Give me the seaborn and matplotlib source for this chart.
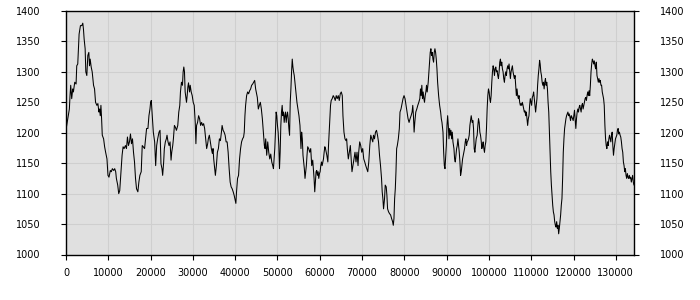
import matplotlib
matplotlib.use("Agg")
import matplotlib.pyplot as plt
import seaborn as sns
import pandas as pd

# ---- data ----
x_values = [
    0, 794, 953, 1112, 1350, 1588, 1747, 2064, 2382, 2541, 2779, 3097, 3414, 3732, 3970, 4129,
    4288, 4526, 4685, 4923, 5161, 5399, 5558, 5717, 5955, 6193, 6511, 6749, 6987, 7305, 7543,
    7781, 7940, 8099, 8258, 8416, 8575, 8893, 9131, 9369, 9687, 9925, 10163, 10481, 10719,
    10957, 11275, 11513, 11751, 11910, 12228, 12466, 12704, 12863, 13260, 13498, 13736, 14054,
    14292, 14530, 14768, 15007, 15245, 15483, 15721, 15959, 16198, 16436, 16674, 16992, 17230,
    17468, 17786, 18024, 18262, 18580, 18818, 19056, 19374, 19612, 19850, 20009, 20168, 20406,
    20644, 20962, 21200, 21438, 21676, 21994, 22232,
    22457, 22695, 22854, 23092, 23251, 23489, 23727, 23886, 24124, 24363, 24601, 24839, 24998,
    25236, 25395, 25633, 25871, 26109, 26427, 26665, 26903, 27062, 27300, 27539, 27697, 27856,
    28015, 28174, 28333, 28491, 28650, 28809, 28968, 29206, 29365, 29603, 29841, 30079, 30318,
    30556, 30715, 30873, 31112, 31350, 31588, 31826, 32064, 32303, 32541, 32779, 33017, 33255,
    33494, 33652, 33891, 34129, 34367, 34605, 34764, 34923, 35161, 35320, 35558, 35796, 36034,
    36273, 36511, 36749, 36908, 37146, 37384, 37622, 37861, 38099, 38337, 38575, 38813, 39052,
    39290, 39528, 39766, 40004, 40163, 40322, 40560, 40798, 41037, 41275, 41513, 41751, 41989,
    42148, 42307, 42466, 42704, 42942, 43180, 43418, 43657, 43895, 44133, 44371, 44610,
    44839, 45077, 45236, 45474, 45712, 45951, 46189, 46427, 46665, 46903, 47062, 47221, 47459,
    47698, 47936, 48174, 48412, 48650, 48888, 49047, 49206, 49365, 49524, 49682, 49841, 50000,
    50159, 50318, 50476, 50635, 50794, 50953, 51112, 51270, 51429, 51588, 51747, 51906, 52064,
    52223, 52382, 52541, 52700, 52858, 53017, 53176, 53335, 53494, 53652, 53811, 53970, 54129,
    54367, 54605, 54843, 55081, 55320, 55558, 55717, 55876, 56034, 56193, 56352, 56511, 56670,
    56828, 56987, 57146, 57384, 57622, 57861, 58099, 58337, 58496, 58655, 58814, 58972, 59131,
    59290, 59449, 59608, 59766, 59925, 60084, 60243, 60402, 60560, 60719, 60878, 61037, 61196,
    61354, 61513, 61672, 61910, 62069, 62228, 62387, 62545, 62704, 62942, 63181, 63419, 63657,
    63895, 64133, 64372, 64610, 64848, 65086, 65325, 65483, 65721, 65959, 66198, 66356, 66515,
    66753, 66992, 67230,
    67459, 67618, 67856, 68094, 68333, 68571, 68809, 69047, 69206, 69444, 69682, 69921, 70159,
    70397, 70635, 70873, 71112, 71350, 71588, 71826, 72064, 72303, 72541, 72700, 72938, 73176,
    73414, 73652, 73891, 74129, 74367, 74605, 74764, 74923, 75082, 75320, 75479, 75717, 75876,
    76034, 76273, 76511, 76749, 76987, 77225, 77384, 77543, 77702, 77861, 78019, 78178, 78337,
    78576, 78814, 78973, 79211, 79449, 79687, 79925, 80163, 80402, 80640, 80878, 81116, 81354,
    81592, 81831, 81990, 82148, 82307, 82466, 82704, 82942, 83180, 83419, 83657, 83816, 83974,
    84133, 84292, 84451, 84610, 84769, 84927, 85086, 85245, 85404, 85642, 85801, 85960, 86119,
    86277, 86436, 86595, 86754, 86913, 87071, 87230, 87389, 87548, 87707, 87865, 88103, 88341,
    88580, 88739, 88897, 89136, 89294, 89453, 89612,
    89922, 90079, 90236, 90393, 90550, 90707, 90864, 91021, 91178, 91335, 91492, 91727, 91884,
    92041, 92198, 92355, 92512, 92669, 92826, 92983, 93140, 93297, 93454, 93611, 93768, 93925,
    94082, 94239, 94396, 94553, 94710, 94867, 95024, 95181, 95338, 95495, 95652, 95809, 96045,
    96202, 96359, 96516, 96673, 96830, 96987, 97222, 97379, 97536, 97693, 97850, 98007, 98164,
    98321, 98478, 98635, 98792, 98949, 99106, 99263, 99420, 99577, 99734, 99891, 100048, 100205,
    100362, 100519, 100676, 100833, 100990, 101147, 101304, 101461, 101618, 101775, 101932,
    102089, 102246, 102403, 102560, 102717, 102874, 103031, 103188, 103345, 103502, 103659,
    103816, 103973, 104130, 104287, 104444, 104601, 104758, 104915, 105072, 105229, 105386,
    105543, 105700, 105857, 106014, 106171, 106328, 106485, 106642, 106799, 106956, 107113,
    107270, 107427, 107584, 107741, 107898, 108055, 108212, 108369, 108526, 108683, 108840,
    108997, 109154, 109311, 109468, 109625, 109782, 109939, 110096, 110253, 110410, 110567,
    110724, 110881, 111038, 111195, 111352, 111509, 111666, 111823, 111980,
    112112, 112268, 112424, 112581, 112737, 112893, 113049, 113205, 113362, 113518, 113674,
    113830, 113986, 114143, 114299, 114455, 114611, 114767, 114924, 115080, 115236, 115392,
    115548, 115705, 115861, 116017, 116173, 116329, 116486, 116642, 116798, 116954, 117110,
    117267, 117423, 117579, 117735, 117891, 118048, 118204, 118360, 118516, 118672, 118829,
    118985, 119141, 119297, 119453, 119610, 119766, 119922, 120078, 120234, 120391, 120547,
    120703, 120859, 121015, 121172, 121328, 121484, 121640, 121796, 121953, 122109, 122265,
    122421, 122577, 122734, 122890, 123046, 123202, 123358, 123515, 123671, 123827, 123983,
    124139, 124296, 124452, 124608, 124764, 124920, 125077, 125233, 125389, 125545, 125701,
    125858, 126014, 126170, 126326, 126482, 126639, 126795, 126951, 127107, 127263, 127420,
    127576, 127732, 127888, 128044, 128201, 128357, 128513, 128669, 128825, 128982, 129138,
    129294, 129450, 129606, 129763, 129919, 130075, 130231, 130387, 130544, 130700, 130856,
    131012, 131168, 131325, 131481, 131637, 131793, 131949, 132106, 132262, 132418, 132574,
    132730, 132887, 133043, 133199, 133355, 133511, 133668, 133824, 133980, 134136, 134292,
]

y_values = [
    1205, 1239, 1261, 1278, 1256, 1272, 1267, 1283, 1280, 1310, 1313, 1362, 1376, 1376, 1380, 1370,
    1354, 1338, 1300, 1294, 1327, 1332, 1310, 1321, 1308, 1300, 1278, 1272, 1250, 1245, 1248,
    1234, 1239, 1228, 1245, 1223, 1196, 1190, 1177, 1168, 1157, 1130, 1127, 1138, 1136,
    1141, 1138, 1141, 1136, 1125, 1114, 1100, 1105, 1122, 1163, 1177, 1174, 1179,
    1174, 1193, 1179, 1185, 1198, 1182, 1190, 1168, 1152, 1125, 1108, 1103, 1119,
    1130, 1136, 1179, 1177, 1174, 1190, 1207, 1207, 1228, 1239, 1250, 1253, 1228,
    1201, 1185, 1146, 1179, 1190, 1201, 1204,
    1149, 1141, 1130, 1152, 1174, 1185, 1190, 1196, 1185, 1179, 1185, 1155, 1168,
    1179, 1190, 1212, 1209, 1204, 1212, 1234, 1245, 1267, 1283, 1278, 1300, 1308,
    1300, 1267, 1259, 1250, 1261, 1275, 1282, 1267, 1278, 1267, 1261, 1250, 1245,
    1217, 1182, 1212, 1217, 1228, 1223, 1212, 1217, 1212, 1215, 1207, 1190, 1174,
    1182, 1190, 1196, 1185, 1174, 1166, 1174, 1157, 1141, 1130, 1146, 1168, 1174,
    1190, 1187, 1201, 1212, 1204, 1201, 1196, 1185, 1185, 1168, 1141, 1119, 1111,
    1108, 1103, 1097, 1089, 1084, 1103, 1125, 1130, 1157, 1174, 1185, 1190, 1193,
    1201, 1228, 1245, 1261, 1267, 1264, 1269, 1272, 1278, 1280, 1283, 1286,
    1272, 1264, 1258, 1239, 1245, 1250, 1239, 1223, 1201, 1179, 1174, 1190, 1163,
    1185, 1168, 1157, 1165, 1152, 1146, 1141, 1157, 1174, 1201, 1234, 1228, 1212,
    1201, 1179, 1141, 1168, 1212, 1234, 1245, 1228, 1234, 1217, 1228, 1234, 1217,
    1228, 1234, 1223, 1207, 1196, 1250, 1272, 1300, 1321, 1308, 1300, 1294, 1283,
    1267, 1250, 1239, 1228, 1212, 1174, 1201, 1190, 1163, 1152, 1141, 1125, 1136,
    1146, 1163, 1177, 1174, 1168, 1174, 1146, 1155, 1141, 1125, 1103, 1119, 1136,
    1138, 1130, 1136, 1125, 1133, 1136, 1146, 1152, 1146, 1152, 1157, 1168, 1177,
    1174, 1168, 1163, 1152, 1179, 1201, 1223, 1245, 1253, 1256, 1261, 1258, 1253,
    1261, 1256, 1261, 1253, 1264, 1267, 1261, 1228, 1201, 1190, 1187, 1190, 1174,
    1157, 1168, 1179,
    1152, 1136, 1146, 1157, 1168, 1152, 1168, 1146, 1168, 1185, 1179, 1168, 1174,
    1157, 1152, 1146, 1141, 1136, 1152, 1179, 1196, 1190, 1185, 1196, 1190, 1201,
    1204, 1196, 1185, 1163, 1146, 1125, 1103, 1092, 1075, 1092, 1114, 1111, 1097,
    1075, 1070, 1067, 1065, 1059, 1054, 1048, 1059, 1092, 1108, 1136, 1174, 1179,
    1190, 1207, 1234, 1239, 1248, 1256, 1261, 1256, 1245, 1234, 1223, 1217, 1223,
    1228, 1234, 1245, 1228, 1201, 1217, 1234, 1239, 1245, 1250, 1256, 1272, 1261,
    1278, 1256, 1267, 1256, 1250, 1261, 1267, 1278, 1267, 1283, 1300, 1316, 1332,
    1338, 1327, 1332, 1321, 1316, 1332, 1338, 1332, 1321, 1305, 1283, 1261, 1245,
    1234, 1223, 1217, 1201, 1168, 1146, 1141,
    1179, 1212, 1228, 1212, 1190, 1207, 1196, 1204, 1190, 1201, 1185, 1174, 1157,
    1152, 1163, 1174, 1179, 1190, 1179, 1168, 1152, 1130, 1136, 1146, 1157, 1163,
    1168, 1174, 1185, 1190, 1179, 1185, 1187, 1190, 1196, 1212, 1220, 1228, 1217,
    1220, 1207, 1174, 1168, 1179, 1190, 1196, 1212, 1223, 1217, 1201, 1196, 1187,
    1174, 1179, 1185, 1174, 1168, 1179, 1185, 1207, 1239, 1261, 1272, 1267, 1256,
    1250, 1261, 1283, 1300, 1310, 1305, 1294, 1305, 1308, 1300, 1302,
    1294, 1289, 1300, 1316, 1321, 1310, 1316, 1305, 1300, 1289, 1283,
    1294, 1300, 1294, 1305, 1310, 1305, 1313, 1300, 1289, 1300, 1305,
    1310, 1300, 1294, 1289, 1294, 1278, 1261, 1272, 1261, 1256, 1261,
    1250, 1245, 1248, 1245, 1250, 1245, 1239, 1234, 1236, 1228, 1234,
    1223, 1212, 1223, 1228, 1245, 1256, 1250, 1245, 1258, 1261, 1267,
    1256, 1245, 1234, 1245, 1256, 1278, 1294, 1305, 1319,
    1313, 1300, 1294, 1283, 1278, 1283, 1272, 1283, 1289, 1278, 1283,
    1272, 1250, 1234, 1201, 1168, 1136, 1114, 1097, 1081, 1070, 1065,
    1054, 1048, 1045, 1054, 1043, 1048, 1034, 1043, 1054, 1065, 1081,
    1092, 1125, 1168, 1190, 1207, 1215, 1223, 1228, 1231, 1234, 1228,
    1231, 1226, 1220, 1228, 1226, 1223, 1220, 1228, 1237, 1223, 1207,
    1223, 1234, 1239, 1234, 1242, 1245, 1239, 1234, 1245, 1248, 1239,
    1245, 1250, 1256, 1258, 1253, 1261, 1267, 1261, 1269, 1261, 1278,
    1300, 1313, 1321, 1318, 1313, 1318, 1310, 1305, 1316, 1294, 1289,
    1283, 1289, 1283, 1286, 1278, 1278, 1267, 1261, 1256, 1245, 1212,
    1190, 1179, 1174, 1185, 1179, 1190, 1196, 1190, 1185, 1196, 1201,
    1179, 1163, 1174, 1182, 1190, 1193, 1196, 1204, 1207, 1198, 1201,
    1196, 1193, 1185, 1174, 1168, 1152, 1146, 1136, 1141, 1130, 1125,
    1133, 1127, 1125, 1130, 1125, 1127, 1119, 1125, 1130, 1119, 1114,
]

x_ticks = [0, 10000, 20000, 30000, 40000, 50000, 60000, 70000, 80000, 90000,
           100000, 110000, 120000, 130000]
y_ticks = [1000, 1050, 1100, 1150, 1200, 1250, 1300, 1350, 1400]

df = pd.DataFrame({"x": x_values, "y": y_values})

sns.set_style("white")
plt.rcParams["font.family"] = ["DejaVu Sans"]

fig = plt.figure(figsize=(7, 3), dpi=100)
ax = fig.add_axes([66 / 700, 1 - 254.5 / 300, (634 - 66) / 700, (254.5 - 11) / 300])
ax.set_facecolor("#e0e0e0")

sns.lineplot(data=df, x="x", y="y", ax=ax, color="black", linewidth=0.75,
             estimator=None, sort=False)

ax.set_xlim(0, 134300)
ax.set_ylim(1000, 1400)
ax.set_xticks(x_ticks)
ax.set_yticks(y_ticks)
ax.set_xticklabels([str(t) for t in x_ticks])
ax.set_yticklabels([str(t) for t in y_ticks])
ax.grid(True, color="#cfcfcf", linewidth=0.8)
ax.set_axisbelow(True)
ax.set_xlabel("")
ax.set_ylabel("")

for s in ax.spines.values():
    s.set_visible(True)
    s.set_color("black")
    s.set_linewidth(1.0)

ax.tick_params(axis="both", which="both", direction="out", length=3.5, width=0.8,
               color="black", labelsize=7, labelcolor="black")
ax.tick_params(axis="y", left=True, right=True, labelleft=True, labelright=True, pad=15)
ax.tick_params(axis="x", bottom=True, pad=6)

fig.savefig("out.png", dpi=100)
